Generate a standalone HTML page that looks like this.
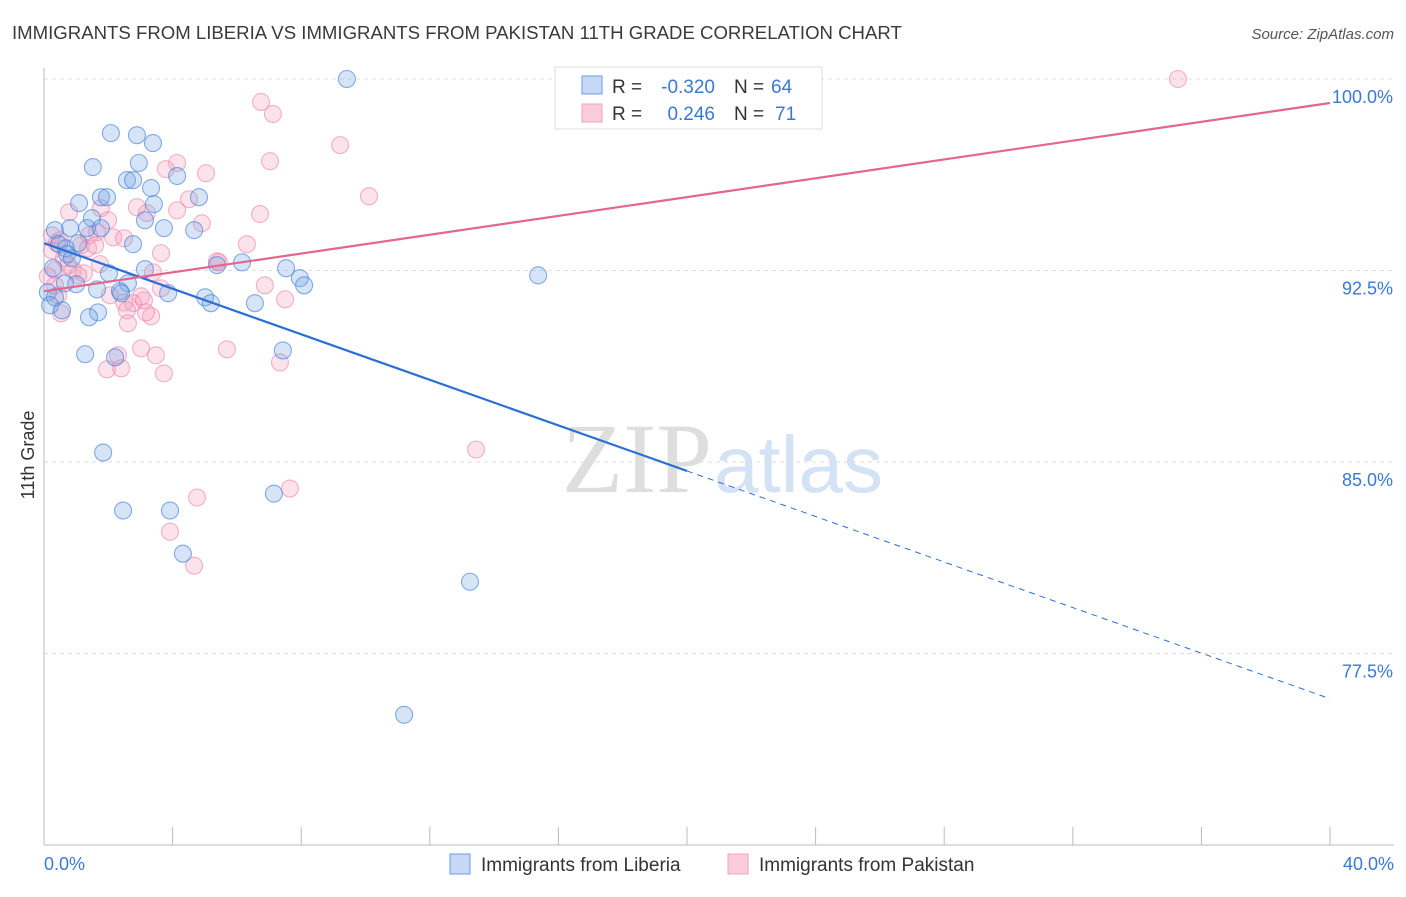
<!DOCTYPE html>
<html><head><meta charset="utf-8"><style>
body{margin:0;background:#fff;font-family:"Liberation Sans",sans-serif}
</style></head><body>
<svg id="c" width="1406" height="892" xmlns="http://www.w3.org/2000/svg">
<text x="12" y="39" font-size="18.6" fill="#3a3a3a">IMMIGRANTS FROM LIBERIA VS IMMIGRANTS FROM PAKISTAN 11TH GRADE CORRELATION CHART</text>
<text x="1394" y="39" font-size="15" fill="#555" font-style="italic" text-anchor="end">Source: ZipAtlas.com</text>
<text x="712" y="492" font-size="100" font-family="Liberation Serif" fill="#dedede" text-anchor="end">ZIP</text>
<text x="714" y="492" font-size="80" fill="#d3e2f4">atlas</text>
<text x="34" y="455" font-size="18" fill="#333" text-anchor="middle" transform="rotate(-90 34 455)">11th Grade</text>
<g id="grid"></g><g id="pts"></g><g id="lines"></g>
<g>
<rect x="555" y="67" width="267" height="62" fill="#fff" stroke="#ddd"/>
<rect x="582" y="76" width="20" height="18" fill="#c6d8f5" stroke="#6c9be0"/>
<rect x="582" y="104" width="20" height="18" fill="#f9ccd9" stroke="#f0a0b8"/>
<text x="612" y="93" font-size="19" fill="#333">R =</text>
<text x="715" y="93" font-size="19" fill="#3a78d8" text-anchor="end">-0.320</text>
<text x="734" y="93" font-size="19" fill="#333">N =</text>
<text x="771" y="93" font-size="19" fill="#3a78d8">64</text>
<text x="612" y="120" font-size="19" fill="#333">R =</text>
<text x="715" y="120" font-size="19" fill="#3a78d8" text-anchor="end">0.246</text>
<text x="734" y="120" font-size="19" fill="#333">N =</text>
<text x="775" y="120" font-size="19" fill="#3a78d8">71</text>
</g>
<g>
<rect x="450" y="854" width="20" height="20" fill="#c6d8f5" stroke="#6c9be0"/>
<text x="481" y="871" font-size="19" fill="#333">Immigrants from Liberia</text>
<rect x="728" y="854" width="20" height="20" fill="#f9ccd9" stroke="#f0a0b8"/>
<text x="759" y="871" font-size="19" fill="#333">Immigrants from Pakistan</text>
</g>
</svg>
<script>
const yTicks=[100,92.5,85,77.5];
const xTickLabels=["0.0%","40.0%"];
const blueX=[2.08,2.89,3.39,1.52,2.95,2.58,2.77,3.33,4.14,1.09,1.77,1.96,3.42,4.82,1.49,3.14,3.73,4.67,0.81,1.34,1.77,2.77,0.34,0.47,0.68,1.06,2.02,2.61,3.14,6.16,5.38,7.53,7.96,8.09,0.72,1.00,1.65,2.36,3.86,5.01,5.19,6.56,0.12,0.34,0.19,0.56,1.68,1.40,1.28,2.21,7.43,15.37,1.84,2.46,3.92,7.15,4.32,13.25,11.20,9.42,0.28,0.87,2.40,0.65];
const blueY=[97.88,97.80,97.49,96.55,96.71,96.04,96.04,95.73,96.20,95.14,95.37,95.37,95.10,95.37,94.55,94.47,94.16,94.08,94.16,94.16,94.16,93.53,94.08,93.53,93.37,93.57,92.39,92.00,92.55,92.82,92.71,92.59,92.20,91.92,93.14,91.96,91.76,91.69,91.61,91.45,91.22,91.22,91.65,91.45,91.14,90.94,90.86,90.67,89.22,89.10,89.37,92.31,85.37,83.10,83.10,83.76,81.41,80.31,75.10,100.0,92.59,92.98,91.61,92.00];
const pinkX=[16.39,35.27,6.75,7.12,9.21,7.03,4.14,3.79,5.04,10.11,4.51,1.77,2.89,3.20,6.72,4.14,0.78,4.91,2.15,6.31,3.64,1.40,1.65,0.50,1.15,0.62,0.25,0.34,0.90,1.24,1.74,3.39,5.38,6.87,7.50,2.49,3.02,2.77,3.33,2.58,2.61,3.64,2.05,0.34,0.12,0.44,0.53,3.02,3.48,5.69,7.34,1.96,2.40,3.73,13.44,4.76,7.65,3.92,4.67,2.30,1.37,1.59,0.25,0.75,1.06,1.99,2.49,5.44,3.11,3.17,0.40];
const pinkY=[100,100,99.10,98.63,97.41,96.78,96.71,96.47,96.31,95.41,95.29,94.94,94.98,94.75,94.71,94.86,94.78,94.35,93.80,93.53,93.18,93.88,94.00,93.69,93.49,92.98,93.29,92.51,92.51,92.39,92.75,92.43,92.86,91.92,91.37,91.25,91.49,91.22,90.71,90.94,90.43,91.80,91.53,91.92,92.27,91.53,90.82,89.45,89.18,89.41,88.90,88.63,88.67,88.47,85.49,83.61,83.96,82.27,80.94,89.18,93.37,93.49,93.88,92.71,92.31,94.47,93.76,92.82,91.33,90.86,93.57];
const blueTrend=[93.57,75.73];
const pinkTrend=[91.69,99.06];
const NS="http://www.w3.org/2000/svg";
const X=v=>44+v/40*1286, Y=v=>79+(100-v)/30*766;
function mk(t,a,p){const e=document.createElementNS(NS,t);for(const k in a)e.setAttribute(k,a[k]);p.appendChild(e);return e;}
const grid=document.getElementById('grid');
yTicks.forEach(t=>{
 const l=mk('line',{x1:44,x2:1394,y1:Y(t),y2:Y(t),stroke:'#ddd','stroke-dasharray':'4 4'},grid);
 
 
 const tx=mk('text',{x:1393,y:Y(t)+24,'font-size':18,fill:'#3a78d8','text-anchor':'end'},grid);tx.textContent=t.toFixed(1)+'%';
 
 
});
const ax=mk('line',{x1:44,x2:1394,y1:845,y2:845,stroke:'#bbb'},grid);


const ay=mk('line',{x1:44,x2:44,y1:68,y2:845,stroke:'#bbb'},grid);


for(let i=0;i<=10;i++){const t=mk('line',{x1:X(i*4),x2:X(i*4),y1:827,y2:845,stroke:'#bbb'},grid);
 
 }
[[0,'start',44],[40,'end',1394]].forEach((d,i)=>{const t=mk('text',{x:d[2],y:870,'font-size':18,fill:'#3a78d8','text-anchor':d[1]},grid);t.textContent=xTickLabels[i];
 
 });
const pts=document.getElementById('pts');
pinkX.forEach((x,i)=>{const c=mk('circle',{cx:X(x),cy:Y(pinkY[i]),r:8.5,fill:'rgba(244,160,188,0.3)',stroke:'rgba(236,130,165,0.6)','stroke-width':1.1},pts);
 
 });
blueX.forEach((x,i)=>{const c=mk('circle',{cx:X(x),cy:Y(blueY[i]),r:8.5,fill:'rgba(120,165,230,0.3)',stroke:'rgba(70,130,220,0.65)','stroke-width':1.1},pts);
 
 });
const L=document.getElementById('lines');
const bMid=blueTrend[0]+(blueTrend[1]-blueTrend[0])*0.5;
const b1=mk('line',{x1:X(0),y1:Y(blueTrend[0]),x2:X(20),y2:Y(bMid),stroke:'#2a6fd6','stroke-width':2.2},L);


const b2=mk('line',{x1:X(20),y1:Y(bMid),x2:X(40),y2:Y(blueTrend[1]),stroke:'#2a6fd6','stroke-width':1,'stroke-dasharray':'6 5'},L);


const p1=mk('line',{x1:X(0),y1:Y(pinkTrend[0]),x2:X(40),y2:Y(pinkTrend[1]),stroke:'#e4668f','stroke-width':2.2},L);


</script>
</body></html>
